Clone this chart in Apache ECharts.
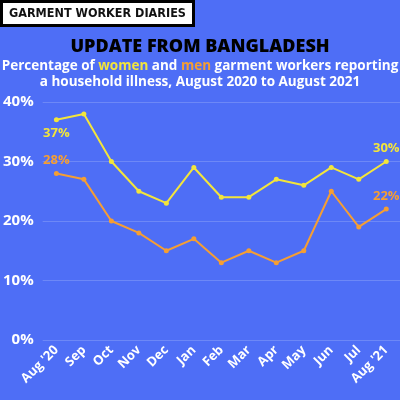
<!DOCTYPE html>
<html>
<head>
<meta charset="utf-8">
<script src="https://cdn.jsdelivr.net/npm/echarts@6/dist/echarts.min.js"></script>
<style>
  html, body { margin: 0; padding: 0; background: #4e6ef6; }
  #chart { width: 400px; height: 400px; }
</style>
</head>
<body>
<div id="chart"></div>
<script>
// months, Aug 2020 to Aug 2021
var months = ["Aug '20", "Sep", "Oct", "Nov", "Dec", "Jan", "Feb", "Mar", "Apr", "May", "Jun", "Jul", "Aug '21"];
var women = [37, 38, 30, 25, 23, 29, 24, 24, 27, 26, 29, 27, 30];
var men = [28, 27, 20, 18, 15, 17, 13, 15, 13, 15, 25, 19, 22];
var yTicks = [0, 10, 20, 30, 40];

var yellow = "#f3e53b";
var orange = "#f59e33";
var font = "Open Sans";

// only first and last points get a label
function withEnds(vals, color, firstPos) {
	return vals.map(function (v, i) {
		if (i == 0 || i == vals.length - 1) {
			return {
				value: v,
				label: {
					show: true,
					position: i == 0 ? firstPos : "top",
					distance: 4,
					formatter: "{c}%",
					color: color,
					fontFamily: font,
					fontWeight: "bold",
					fontSize: 13
				}
			};
		}
		return v;
	});
}

var myChart = echarts.init(document.getElementById("chart"));
var option = {
	backgroundColor: "#4e6ef6",
	animation: false,
	title: [
		{
			text: "GARMENT WORKER DIARIES",
			left: 1, top: 1,
			backgroundColor: "#fff",
			borderColor: "#000",
			borderWidth: 3,
			padding: [6, 8, 6, 8],
			textStyle: { color: "#111", fontFamily: "DejaVu Sans Condensed", fontWeight: "bold", fontSize: 12.5 }
		},
		{
			text: "UPDATE FROM BANGLADESH",
			left: "center", top: 33,
			textStyle: { color: "#000", fontFamily: font, fontWeight: 800, fontSize: 18 }
		},
		{
			text: "Percentage of {y|women} and {o|men} garment workers reporting\n{w|a household illness, August 2020 to August 2021}",
			left: "center", top: 53,
			textStyle: {
				color: "#fff", fontFamily: font, fontWeight: "bold", fontSize: 13.5, lineHeight: 16,
				rich: {
					y: { color: yellow, fontFamily: font, fontWeight: "bold", fontSize: 13.5 },
					o: { color: orange, fontFamily: font, fontWeight: "bold", fontSize: 13.5 },
					w: { color: "#fff", fontFamily: font, fontWeight: "bold", fontSize: 13.5, align: "center", width: 390 }
				}
			}
		}
	],
	grid: { left: 41, right: 0, top: 102, bottom: 60 },
	xAxis: {
		type: "category",
		data: months,
		boundaryGap: true,
		axisLine: { show: false },
		axisTick: { show: false },
		axisLabel: {
			rotate: 45, margin: 8, interval: 0,
			color: "#fff", fontFamily: font, fontWeight: "bold", fontSize: 13
		}
	},
	yAxis: {
		type: "value",
		min: yTicks[0], max: yTicks[yTicks.length - 1], interval: 10,
		axisLabel: {
			color: "#fff", fontFamily: font, fontWeight: "bold", fontSize: 15, margin: 9,
			formatter: "{value}%"
		},
		splitLine: { lineStyle: { color: "rgba(255,255,255,0.18)", width: 1 } }
	},
	series: [
		{
			name: "women", type: "line",
			data: withEnds(women, yellow, "bottom"),
			lineStyle: { color: yellow, width: 2 },
			itemStyle: { color: yellow },
			symbol: "circle", symbolSize: 5
		},
		{
			name: "men", type: "line",
			data: withEnds(men, orange, "top"),
			lineStyle: { color: orange, width: 2 },
			itemStyle: { color: orange },
			symbol: "circle", symbolSize: 5
		}
	]
};
myChart.setOption(option);
</script>
</body>
</html>
